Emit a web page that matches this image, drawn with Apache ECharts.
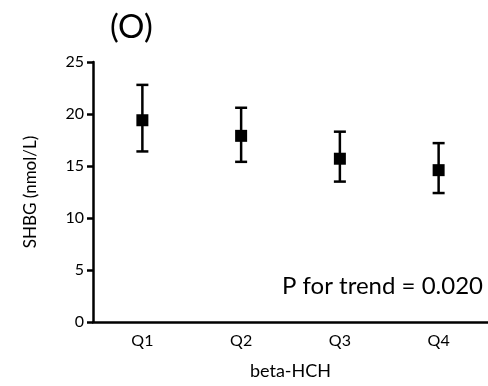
<!DOCTYPE html>
<html lang="en">
<head>
    <meta charset="UTF-8">
    <title></title>
    <script src="https://cdn.jsdelivr.net/npm/echarts@6/dist/echarts.min.js"></script>
</head>
<body style="margin:0">
<div id="box1" style="width: 488px;height: 386px"></div>
<script>
    var categories = ['Q1', 'Q2', 'Q3', 'Q4'];
    var means = [19.4, 17.9, 15.7, 14.6];
    var lower = [16.4, 15.4, 13.5, 12.4];
    var upper = [22.8, 20.6, 18.3, 17.2];
    var yTicks = [0, 5, 10, 15, 20, 25];

    var mychart = echarts.init(document.getElementById("box1"));
    var font = 'Lato';

    var errData = categories.map(function (c, i) {
        return [i, lower[i], upper[i]];
    });

    var option = {
        animation: false,
        grid: {left: 93, right: 0, top: 62, bottom: 64},
        graphic: [{
            type: 'text', left: 110, top: 11,
            style: {text: '(O)', font: '33px Lato', fill: '#000'}
        }, {
            type: 'text', right: 5, top: 274,
            style: {text: 'P for trend = 0.020', font: '24px Lato', fill: '#000'}
        }],
        xAxis: {
            type: 'category',
            data: categories,
            name: 'beta-HCH',
            nameLocation: 'middle',
            nameGap: 40,
            nameTextStyle: {fontFamily: font, fontSize: 18, color: '#000'},
            axisLine: {lineStyle: {color: '#000', width: 2.5}},
            axisTick: {alignWithLabel: true, length: 7, lineStyle: {width: 2.5, color: '#000'}},
            axisLabel: {fontFamily: font, fontSize: 16, color: '#000', margin: 11}
        },
        yAxis: {
            type: 'value',
            min: yTicks[0], max: yTicks[yTicks.length - 1], interval: 5,
            name: 'SHBG (nmol/L)',
            nameLocation: 'middle',
            nameGap: 54,
            nameTextStyle: {fontFamily: font, fontSize: 17, color: '#000'},
            splitLine: {show: false},
            axisLine: {show: true, lineStyle: {color: '#000', width: 2.5}},
            axisTick: {show: true, length: 6, lineStyle: {width: 2.5, color: '#000'}},
            axisLabel: {fontFamily: font, fontSize: 16, color: '#000', margin: 9}
        },
        series: [{
            type: 'custom',
            data: errData,
            renderItem: function (params, api) {
                var lo = api.coord([api.value(0), api.value(1)]);
                var hi = api.coord([api.value(0), api.value(2)]);
                var w = 6;
                var st = {stroke: '#000', lineWidth: 2.5};
                return {
                    type: 'group',
                    children: [
                        {type: 'line', shape: {x1: lo[0], y1: lo[1], x2: hi[0], y2: hi[1]}, style: st},
                        {type: 'line', shape: {x1: lo[0] - w, y1: lo[1], x2: lo[0] + w, y2: lo[1]}, style: st},
                        {type: 'line', shape: {x1: hi[0] - w, y1: hi[1], x2: hi[0] + w, y2: hi[1]}, style: st}
                    ]
                };
            }
        }, {
            type: 'scatter',
            data: means,
            symbol: 'rect',
            symbolSize: 12,
            itemStyle: {color: '#000', opacity: 1}
        }]
    };
    mychart.setOption(option);
</script>
</body>
</html>
